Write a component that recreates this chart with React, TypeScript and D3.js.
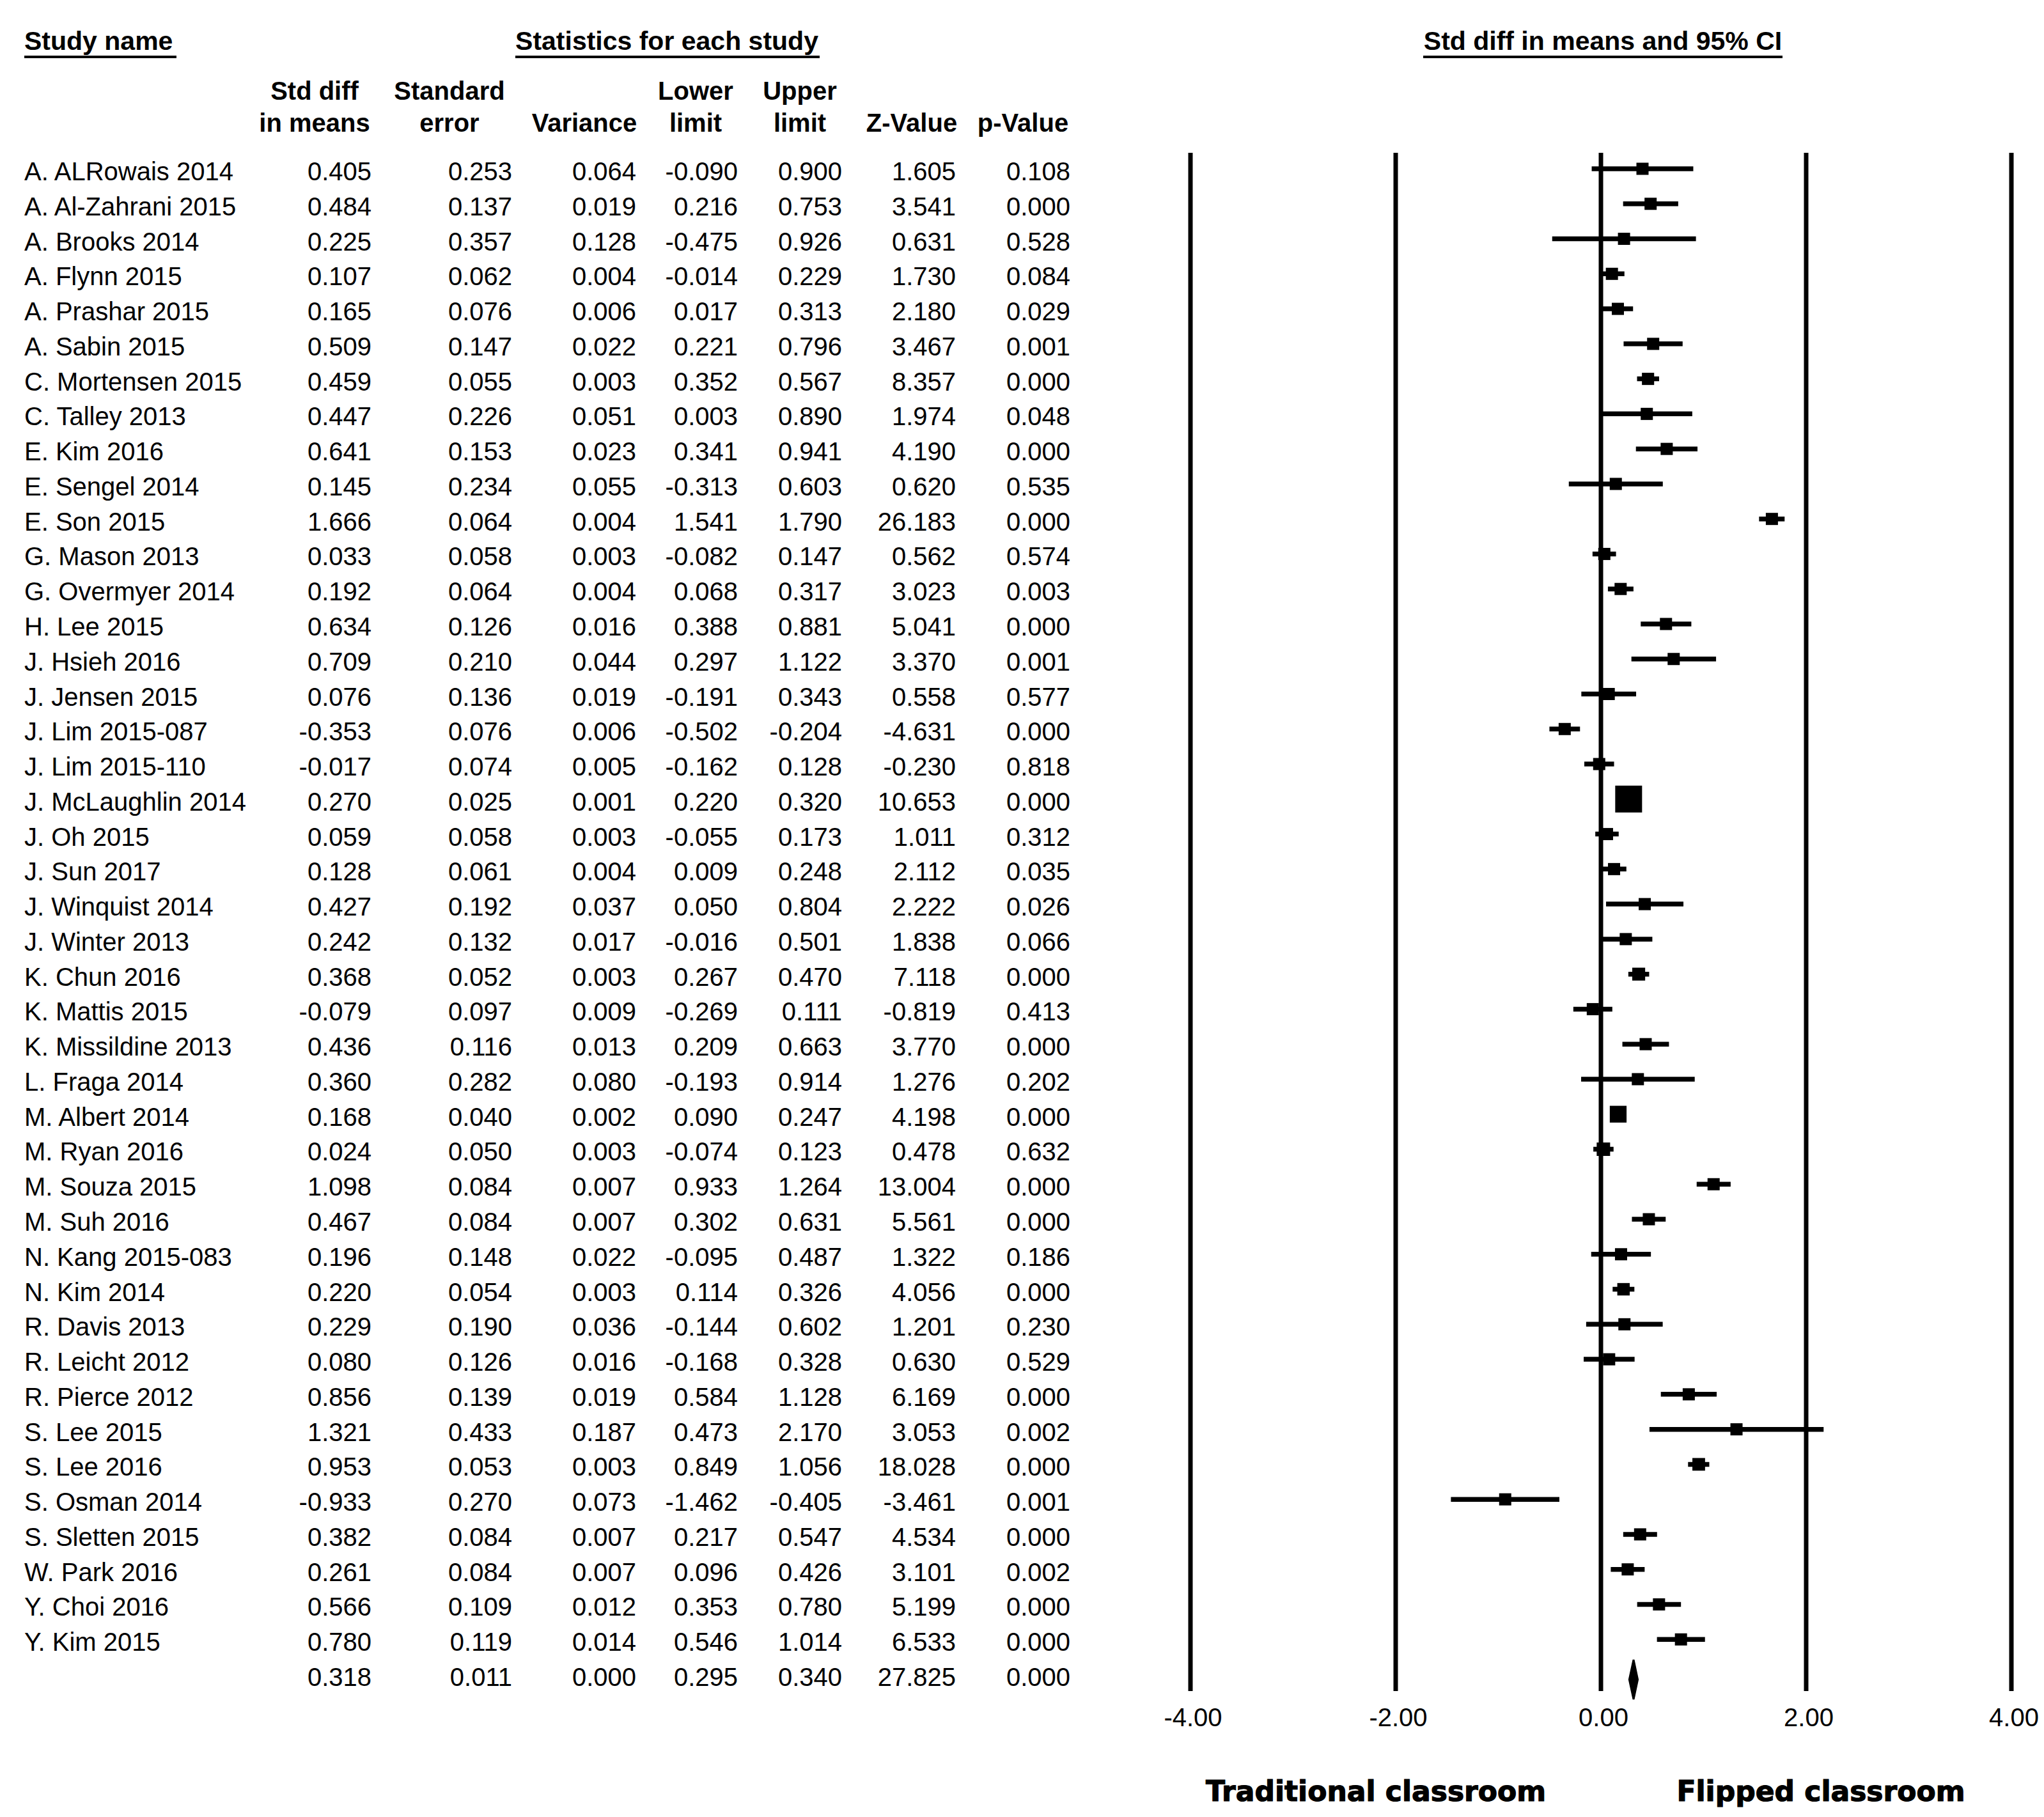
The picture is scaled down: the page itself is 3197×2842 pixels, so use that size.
import React from 'react';
import * as d3 from 'd3';

const studyNames = [
  'A. ALRowais 2014', 'A. Al-Zahrani 2015', 'A. Brooks 2014', 'A. Flynn 2015', 'A. Prashar 2015',
  'A. Sabin 2015', 'C. Mortensen 2015', 'C. Talley 2013', 'E. Kim 2016', 'E. Sengel 2014',
  'E. Son 2015', 'G. Mason 2013', 'G. Overmyer 2014', 'H. Lee 2015', 'J. Hsieh 2016',
  'J. Jensen 2015', 'J. Lim 2015-087', 'J. Lim 2015-110', 'J. McLaughlin 2014', 'J. Oh 2015',
  'J. Sun 2017', 'J. Winquist 2014', 'J. Winter 2013', 'K. Chun 2016', 'K. Mattis 2015',
  'K. Missildine 2013', 'L. Fraga 2014', 'M. Albert 2014', 'M. Ryan 2016', 'M. Souza 2015',
  'M. Suh 2016', 'N. Kang 2015-083', 'N. Kim 2014', 'R. Davis 2013', 'R. Leicht 2012',
  'R. Pierce 2012', 'S. Lee 2015', 'S. Lee 2016', 'S. Osman 2014', 'S. Sletten 2015',
  'W. Park 2016', 'Y. Choi 2016', 'Y. Kim 2015',
];

const stdDiff = [
  0.405, 0.484, 0.225, 0.107, 0.165, 0.509, 0.459, 0.447, 0.641, 0.145,
  1.666, 0.033, 0.192, 0.634, 0.709, 0.076, -0.353, -0.017, 0.270, 0.059,
  0.128, 0.427, 0.242, 0.368, -0.079, 0.436, 0.360, 0.168, 0.024, 1.098,
  0.467, 0.196, 0.220, 0.229, 0.080, 0.856, 1.321, 0.953, -0.933, 0.382,
  0.261, 0.566, 0.780,
];
const stdErr = [
  0.253, 0.137, 0.357, 0.062, 0.076, 0.147, 0.055, 0.226, 0.153, 0.234,
  0.064, 0.058, 0.064, 0.126, 0.210, 0.136, 0.076, 0.074, 0.025, 0.058,
  0.061, 0.192, 0.132, 0.052, 0.097, 0.116, 0.282, 0.040, 0.050, 0.084,
  0.084, 0.148, 0.054, 0.190, 0.126, 0.139, 0.433, 0.053, 0.270, 0.084,
  0.084, 0.109, 0.119,
];
const variance = [
  0.064, 0.019, 0.128, 0.004, 0.006, 0.022, 0.003, 0.051, 0.023, 0.055,
  0.004, 0.003, 0.004, 0.016, 0.044, 0.019, 0.006, 0.005, 0.001, 0.003,
  0.004, 0.037, 0.017, 0.003, 0.009, 0.013, 0.080, 0.002, 0.003, 0.007,
  0.007, 0.022, 0.003, 0.036, 0.016, 0.019, 0.187, 0.003, 0.073, 0.007,
  0.007, 0.012, 0.014,
];
const lowerLimit = [
  -0.090, 0.216, -0.475, -0.014, 0.017, 0.221, 0.352, 0.003, 0.341, -0.313,
  1.541, -0.082, 0.068, 0.388, 0.297, -0.191, -0.502, -0.162, 0.220, -0.055,
  0.009, 0.050, -0.016, 0.267, -0.269, 0.209, -0.193, 0.090, -0.074, 0.933,
  0.302, -0.095, 0.114, -0.144, -0.168, 0.584, 0.473, 0.849, -1.462, 0.217,
  0.096, 0.353, 0.546,
];
const upperLimit = [
  0.900, 0.753, 0.926, 0.229, 0.313, 0.796, 0.567, 0.890, 0.941, 0.603,
  1.790, 0.147, 0.317, 0.881, 1.122, 0.343, -0.204, 0.128, 0.320, 0.173,
  0.248, 0.804, 0.501, 0.470, 0.111, 0.663, 0.914, 0.247, 0.123, 1.264,
  0.631, 0.487, 0.326, 0.602, 0.328, 1.128, 2.170, 1.056, -0.405, 0.547,
  0.426, 0.780, 1.014,
];
const zValue = [
  1.605, 3.541, 0.631, 1.730, 2.180, 3.467, 8.357, 1.974, 4.190, 0.620,
  26.183, 0.562, 3.023, 5.041, 3.370, 0.558, -4.631, -0.230, 10.653, 1.011,
  2.112, 2.222, 1.838, 7.118, -0.819, 3.770, 1.276, 4.198, 0.478, 13.004,
  5.561, 1.322, 4.056, 1.201, 0.630, 6.169, 3.053, 18.028, -3.461, 4.534,
  3.101, 5.199, 6.533,
];
const pValue = [
  0.108, 0.000, 0.528, 0.084, 0.029, 0.001, 0.000, 0.048, 0.000, 0.535,
  0.000, 0.574, 0.003, 0.000, 0.001, 0.577, 0.000, 0.818, 0.000, 0.312,
  0.035, 0.026, 0.066, 0.000, 0.413, 0.000, 0.202, 0.000, 0.632, 0.000,
  0.000, 0.186, 0.000, 0.230, 0.529, 0.000, 0.002, 0.000, 0.001, 0.000,
  0.002, 0.000, 0.000,
];

// overall row: std diff, se, variance, lower, upper, z, p
const summaryRow = [0.318, 0.011, 0.000, 0.295, 0.340, 27.825, 0.000];

const axisTicks = [-4, -2, 0, 2, 4];

const colHeaders = [
  ['Std diff', 'in means'],
  ['Standard', 'error'],
  ['', 'Variance'],
  ['Lower', 'limit'],
  ['Upper', 'limit'],
  ['', 'Z-Value'],
  ['', 'p-Value'],
];

const W = 3197;
const H = 2842;
const FONT = '"Liberation Sans", Arial, sans-serif';
const colRight = [581, 801, 995, 1154, 1317, 1495, 1674];
const colHeadCenter = [492, 703, 914, 1088, 1251, 1426, 1600];

export default function App() {
  const nRows = studyNames.length + 1;
  const rowBase = d3.scaleLinear().domain([0, nRows - 1]).range([282, 2637]);
  const x = d3.scaleLinear().domain([-4, 4]).range([1862, 3146]);

  const rows = studyNames.map((name, i) => ({
    name,
    vals: [stdDiff[i], stdErr[i], variance[i], lowerLimit[i], upperLimit[i], zValue[i], pValue[i]],
  }));

  const gridTop = 239;
  const gridBottom = 2645;
  const sumY = rowBase(nRows - 1) - 10;
  const diamond = d3.line()([
    [x(summaryRow[3]) - 3, sumY],
    [x(summaryRow[0]), sumY - 31],
    [x(summaryRow[4]) + 3, sumY],
    [x(summaryRow[0]), sumY + 31],
  ]) + 'Z';

  return (
    <div style={{ position: 'absolute', left: 0, top: 0, background: '#fff' }}>
      <svg width={W} height={H} viewBox={`0 0 ${W} ${H}`} style={{ display: 'block', background: '#fff' }}>
        <g fontFamily={FONT} fill="#000">
          {/* top headers */}
          <text x={38} y={78} fontSize={41} fontWeight="bold">Study name</text>
          <line x1={38} x2={276} y1={89} y2={89} stroke="#000" strokeWidth={4} />
          <text x={1043} y={78} fontSize={41} fontWeight="bold" textAnchor="middle">Statistics for each study</text>
          <line x1={806} x2={1282} y1={89} y2={89} stroke="#000" strokeWidth={4} />
          <text x={2507} y={78} fontSize={41} fontWeight="bold" textAnchor="middle">Std diff in means and 95% CI</text>
          <line x1={2226} x2={2788} y1={89} y2={89} stroke="#000" strokeWidth={4} />

          {colHeaders.map((h, j) => (
            <g key={j}>
              {h[0] && <text x={colHeadCenter[j]} y={156} fontSize={40} fontWeight="bold" textAnchor="middle">{h[0]}</text>}
              <text x={colHeadCenter[j]} y={206} fontSize={40} fontWeight="bold" textAnchor="middle">{h[1]}</text>
            </g>
          ))}

          {/* study rows */}
          {rows.map((r, i) => (
            <g key={r.name}>
              <text x={38} y={rowBase(i)} fontSize={40}>{r.name}</text>
              {r.vals.map((v, j) => (
                <text key={j} x={colRight[j]} y={rowBase(i)} fontSize={40} textAnchor="end">{v.toFixed(3)}</text>
              ))}
            </g>
          ))}
          {summaryRow.map((v, j) => (
            <text key={j} x={colRight[j]} y={rowBase(nRows - 1)} fontSize={40} textAnchor="end">{v.toFixed(3)}</text>
          ))}

          {/* forest plot grid */}
          {axisTicks.map(t => (
            <g key={t}>
              <line x1={x(t)} x2={x(t)} y1={gridTop} y2={gridBottom} stroke="#000" strokeWidth={7} />
              <text x={x(t) + 4} y={2700} fontSize={40} textAnchor="middle">{t.toFixed(2)}</text>
            </g>
          ))}

          {/* study markers */}
          {rows.map((r, i) => {
            const cy = rowBase(i) - 18;
            const side = Math.max(19, 1.05 / stdErr[i]);
            return (
              <g key={'m' + i}>
                <line x1={x(lowerLimit[i])} x2={x(upperLimit[i])} y1={cy} y2={cy} stroke="#000" strokeWidth={7.5} />
                <rect x={x(stdDiff[i]) - side / 2} y={cy - side / 2} width={side} height={side} fill="#000" />
              </g>
            );
          })}

          <path d={diamond} fill="#000" stroke="#000" strokeWidth={3} />

          <g fontSize={44} fontWeight="bold" fontFamily='"DejaVu Sans", sans-serif' textAnchor="middle" stroke="#000" strokeWidth={1.2}>
            <text x={2152} y={2817}>Traditional classroom</text>
            <text x={2848} y={2817}>Flipped classroom</text>
          </g>
        </g>
      </svg>
    </div>
  );
}
